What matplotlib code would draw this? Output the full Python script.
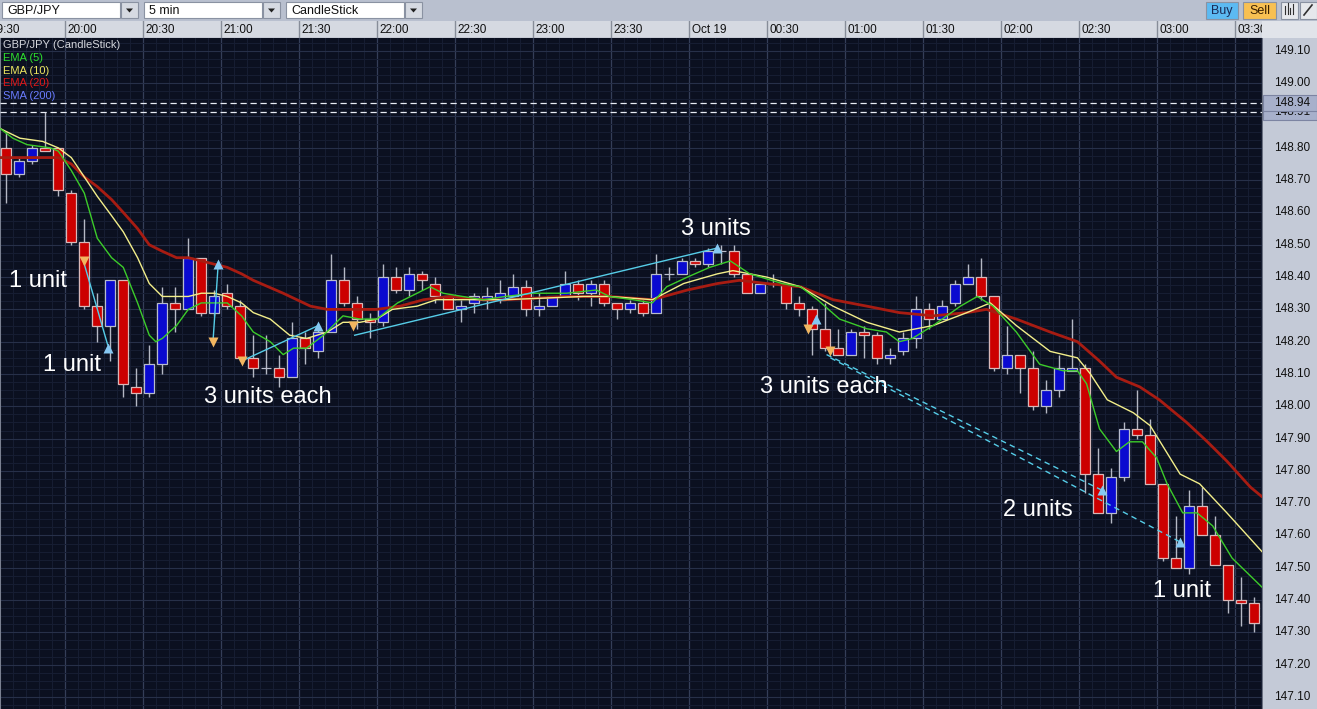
import matplotlib
matplotlib.use('Agg')
import matplotlib.pyplot as plt
from matplotlib.patches import Rectangle, Polygon
import numpy as np

plt.rcParams['font.family'] = ['Liberation Sans', 'DejaVu Sans']

# GBP/JPY 5 min candles
opens = [148.80, 148.72, 148.76, 148.80, 148.80, 148.66, 148.51, 148.31, 148.25, 148.39,
         148.06, 148.04, 148.13, 148.32, 148.30, 148.46, 148.29, 148.35, 148.31, 148.15,
         148.12, 148.12, 148.09, 148.21, 148.17, 148.23, 148.39, 148.32, 148.27, 148.26,
         148.40, 148.36, 148.41, 148.38, 148.34, 148.30, 148.32, 148.33, 148.33, 148.34,
         148.37, 148.30, 148.31, 148.34, 148.38, 148.35, 148.38, 148.32, 148.30, 148.32,
         148.29, 148.41, 148.41, 148.45, 148.44, 148.48, 148.48, 148.41, 148.35, 148.38,
         148.38, 148.32, 148.30, 148.24, 148.18, 148.16, 148.23, 148.22, 148.15, 148.17,
         148.21, 148.30, 148.27, 148.32, 148.38, 148.40, 148.34, 148.12, 148.16, 148.12,
         148.00, 148.05, 148.11, 148.12, 147.79, 147.67, 147.78, 147.93, 147.91, 147.76,
         147.53, 147.50, 147.69, 147.60, 147.51, 147.40, 147.39]
closes = [148.72, 148.76, 148.80, 148.79, 148.67, 148.51, 148.31, 148.25, 148.39, 148.07,
          148.04, 148.13, 148.32, 148.30, 148.46, 148.29, 148.34, 148.31, 148.15, 148.12,
          148.12, 148.09, 148.21, 148.18, 148.23, 148.39, 148.32, 148.27, 148.26, 148.40,
          148.36, 148.41, 148.39, 148.34, 148.30, 148.31, 148.34, 148.34, 148.35, 148.37,
          148.30, 148.31, 148.34, 148.38, 148.35, 148.38, 148.32, 148.30, 148.32, 148.29,
          148.41, 148.41, 148.45, 148.44, 148.48, 148.48, 148.41, 148.35, 148.38, 148.38,
          148.32, 148.30, 148.24, 148.18, 148.16, 148.23, 148.22, 148.15, 148.16, 148.21,
          148.30, 148.27, 148.31, 148.38, 148.40, 148.34, 148.12, 148.16, 148.12, 148.00,
          148.05, 148.12, 148.12, 147.79, 147.67, 147.78, 147.93, 147.91, 147.76, 147.53,
          147.50, 147.69, 147.60, 147.51, 147.40, 147.39, 147.33]
highs = [148.85, 148.77, 148.81, 148.91, 148.80, 148.67, 148.58, 148.35, 148.39, 148.39,
         148.12, 148.19, 148.37, 148.37, 148.52, 148.46, 148.36, 148.38, 148.33, 148.22,
         148.22, 148.16, 148.26, 148.23, 148.24, 148.47, 148.43, 148.34, 148.29, 148.44,
         148.43, 148.43, 148.42, 148.40, 148.34, 148.33, 148.35, 148.37, 148.39, 148.41,
         148.39, 148.35, 148.34, 148.42, 148.39, 148.39, 148.39, 148.32, 148.33, 148.33,
         148.47, 148.43, 148.46, 148.46, 148.49, 148.50, 148.50, 148.41, 148.38, 148.41,
         148.38, 148.34, 148.31, 148.32, 148.24, 148.24, 148.25, 148.23, 148.18, 148.23,
         148.34, 148.32, 148.33, 148.39, 148.44, 148.46, 148.34, 148.25, 148.16, 148.17,
         148.08, 148.16, 148.27, 148.13, 147.87, 147.81, 147.95, 148.05, 147.96, 147.76,
         147.66, 147.74, 147.75, 147.66, 147.51, 147.47, 147.41]
lows = [148.63, 148.71, 148.75, 148.79, 148.65, 148.50, 148.30, 148.20, 148.14, 148.03,
        148.00, 148.03, 148.10, 148.23, 148.30, 148.28, 148.28, 148.30, 148.14, 148.09,
        148.10, 148.06, 148.09, 148.13, 148.15, 148.23, 148.31, 148.24, 148.21, 148.25,
        148.35, 148.34, 148.36, 148.32, 148.30, 148.26, 148.29, 148.30, 148.32, 148.34,
        148.28, 148.28, 148.31, 148.34, 148.33, 148.31, 148.31, 148.27, 148.29, 148.28,
        148.29, 148.39, 148.41, 148.43, 148.43, 148.44, 148.40, 148.35, 148.35, 148.37,
        148.30, 148.28, 148.16, 148.17, 148.16, 148.16, 148.15, 148.13, 148.13, 148.16,
        148.18, 148.24, 148.27, 148.31, 148.38, 148.33, 148.11, 148.10, 148.04, 147.99,
        147.98, 148.03, 148.11, 147.73, 147.67, 147.64, 147.77, 147.90, 147.76, 147.52,
        147.50, 147.48, 147.60, 147.51, 147.36, 147.32, 147.30]

# moving averages at these candle positions
ema5_pos = [-0.48, 0.5, 1.6, 3.4, 4.0, 5.0, 6.0, 7.0, 8.1, 9.0, 10.1, 11.0, 11.5, 12.0, 13.1,
            14.0, 15.0, 16.0, 17.0, 18.1, 19.0, 20.3, 21.3, 22.1, 23.1, 24.4, 25.9, 27.2, 28.5,
            30.1, 31.6, 32.6, 33.6, 35.1, 36.7, 38.4, 40.5, 43.1, 45.4, 46.4, 48.2, 49.7, 50.8,
            52.4, 54.1, 55.7, 57.2, 59.7, 61.1, 62.4, 64.1, 66.2, 67.7, 68.7, 69.7, 71.3, 73.4,
            74.7, 75.9, 77.7, 79.5, 81.3, 82.4, 83.1, 84.1, 85.4, 86.4, 87.4, 88.5, 89.3, 90.5,
            91.6, 92.8, 94.3, 96.6]
ema5_val = [148.86, 148.83, 148.81, 148.80, 148.79, 148.73, 148.66, 148.52, 148.46, 148.43, 148.32,
            148.22, 148.20, 148.21, 148.25, 148.30, 148.32, 148.32, 148.32, 148.28, 148.23, 148.20,
            148.16, 148.18, 148.18, 148.22, 148.28, 148.27, 148.27, 148.32, 148.35, 148.37, 148.35,
            148.34, 148.33, 148.34, 148.35, 148.35, 148.36, 148.34, 148.33, 148.32, 148.37, 148.40,
            148.43, 148.45, 148.41, 148.38, 148.37, 148.33, 148.27, 148.24, 148.23, 148.20, 148.21,
            148.25, 148.31, 148.34, 148.31, 148.23, 148.13, 148.11, 148.11, 148.07, 147.93, 147.86,
            147.89, 147.89, 147.84, 147.76, 147.67, 147.67, 147.63, 147.53, 147.44]
ema10_pos = [-0.48, 1.05, 2.8, 4.0, 5.0, 6.0, 7.0, 8.1, 9.0, 10.1, 11.0, 12.0, 13.1, 14.0, 15.0,
             16.0, 17.0, 18.1, 19.0, 20.3, 21.8, 23.1, 24.7, 25.9, 27.2, 28.5, 29.7, 31.6, 33.1,
             34.7, 38.4, 44.4, 46.4, 49.7, 52.1, 54.7, 55.9, 58.5, 61.1, 63.6, 66.2, 68.7, 71.3,
             73.9, 75.7, 77.7, 80.3, 82.4, 83.4, 84.7, 86.7, 88.0, 90.3, 91.8, 93.9, 96.6]
ema10_val = [148.86, 148.83, 148.82, 148.80, 148.77, 148.71, 148.65, 148.59, 148.54, 148.46, 148.38,
             148.34, 148.34, 148.34, 148.35, 148.35, 148.34, 148.32, 148.29, 148.27, 148.22, 148.21,
             148.23, 148.26, 148.26, 148.27, 148.30, 148.31, 148.33, 148.33, 148.33, 148.34, 148.34,
             148.33, 148.38, 148.41, 148.42, 148.40, 148.37, 148.31, 148.26, 148.23, 148.25, 148.29,
             148.32, 148.25, 148.17, 148.15, 148.10, 148.02, 147.98, 147.94, 147.79, 147.76, 147.67,
             147.55]
ema20_pos = [-0.48, 3.0, 4.0, 5.0, 6.0, 7.0, 8.1, 9.0, 10.1, 11.0, 12.0, 13.1, 14.0, 15.0, 16.0,
             17.0, 18.1, 19.0, 21.3, 23.4, 24.7, 26.4, 28.5, 30.3, 32.1, 34.1, 36.7, 38.4, 43.1,
             46.4, 49.7, 52.4, 54.7, 56.4, 58.5, 61.1, 63.6, 66.2, 68.7, 71.3, 73.9, 75.4, 77.7,
             80.3, 82.4, 84.1, 85.4, 87.2, 88.7, 90.8, 92.4, 93.9, 95.7, 96.6]
ema20_val = [148.77, 148.77, 148.77, 148.75, 148.71, 148.68, 148.64, 148.60, 148.55, 148.50, 148.48,
             148.46, 148.46, 148.45, 148.44, 148.43, 148.41, 148.39, 148.35, 148.31, 148.30, 148.30,
             148.30, 148.31, 148.33, 148.34, 148.33, 148.33, 148.34, 148.34, 148.33, 148.36, 148.38,
             148.39, 148.38, 148.37, 148.33, 148.31, 148.29, 148.28, 148.29, 148.30, 148.27, 148.23,
             148.20, 148.14, 148.09, 148.06, 148.02, 147.95, 147.89, 147.83, 147.75, 147.72]

# trade marks
sell_pos = [6.0, 15.9, 18.1, 26.7, 61.7, 63.4]
sell_px = [148.45, 148.20, 148.14, 148.25, 148.24, 148.17]
buy_pos = [7.8, 16.3, 24.0, 54.7, 62.3, 84.3, 90.3]
buy_px = [148.18, 148.44, 148.25, 148.49, 148.27, 147.74, 147.58]
link_from = [(6.0, 148.44), (16.3, 148.44), (18.1, 148.14), (26.8, 148.22), (61.7, 148.23)]
link_to = [(7.8, 148.19), (15.9, 148.20), (24.0, 148.25), (54.7, 148.49), (62.3, 148.27)]
dash_from = [(63.1, 148.16), (63.4, 148.15)]
dash_to = [(84.3, 147.74), (90.3, 147.58)]

time_labels = ['19:30', '20:00', '20:30', '21:00', '21:30', '22:00', '22:30', '23:00', '23:30',
               'Oct 19', '00:30', '01:00', '01:30', '02:00', '02:30', '03:00', '03:30']
time_pos = [-1.5 + 6 * k for k in range(len(time_labels))]
price_ticks = np.round(np.arange(147.10, 149.11, 0.10), 2)
marked_levels = [148.94, 148.91]

W, H = 1317, 709
fig = plt.figure(figsize=(W / 100, H / 100), dpi=100)
fig.patch.set_facecolor('#b9c0cf')


def px_axes(x0, y0, x1, y1):
    return fig.add_axes([x0 / W, 1 - y1 / H, (x1 - x0) / W, (y1 - y0) / H])


def bare(ax):
    ax.set_xticks([])
    ax.set_yticks([])
    for s in ax.spines.values():
        s.set_visible(False)


XLIM = (-0.485, 96.6)
YLIM = (147.0628, 149.1402)

# --- toolbar ---
tb = px_axes(0, 0, W, 21)
bare(tb)
tb.set_xlim(0, W)
tb.set_ylim(21, 0)
tb.set_facecolor('#b9c0cf')


def dropdown(x0, x1, label):
    tb.add_patch(Rectangle((x0, 2), x1 - x0 - 18, 16, fc='white', ec='#8a92a2', lw=0.8))
    tb.add_patch(Rectangle((x1 - 17, 2), 17, 16, fc='#d6dae2', ec='#8a92a2', lw=0.8))
    tb.add_patch(Polygon([[x1 - 12, 8.5], [x1 - 5, 8.5], [x1 - 8.5, 12.5]], closed=True,
                         fc='#202020', ec='none'))
    tb.text(x0 + 5, 10.5, label, va='center', ha='left', fontsize=9, color='#111111')


dropdown(2, 138, 'GBP/JPY')
dropdown(144, 280, '5 min')
dropdown(286, 422, 'CandleStick')
tb.add_patch(Rectangle((1206, 1.5), 32, 17, fc='#5cbaf2', ec='#8a92a2', lw=0.8))
tb.text(1222, 11, 'Buy', ha='center', va='center', fontsize=9, color='#1a2a55')
tb.add_patch(Rectangle((1243, 1.5), 33, 17, fc='#f8c052', ec='#8a92a2', lw=0.8))
tb.text(1259.5, 11, 'Sell', ha='center', va='center', fontsize=9, color='#3a2000')
tb.add_patch(Rectangle((1281, 1.5), 17, 17, fc='#e6e8ec', ec='#8a92a2', lw=0.8))
for dx, h in [(4, 8), (6.5, 11), (9, 6), (11.5, 10)]:
    tb.plot([1281 + dx, 1281 + dx], [14, 14 - h], color='#303030', lw=0.8)
tb.add_patch(Rectangle((1300, 1.5), 17, 17, fc='#e6e8ec', ec='#8a92a2', lw=0.8))
tb.plot([1304, 1312], [15, 5], color='#303030', lw=1.2)

# --- time header ---
hd = px_axes(0, 21, 1262, 38)
bare(hd)
hd.set_xlim(*XLIM)
hd.set_ylim(0, 1)
hd.set_facecolor('#d5d9e1')
for pos, lab in zip(time_pos, time_labels):
    hd.axvline(pos, color='#878d99', lw=1)
    hd.text(pos + 0.22, 0.45, lab, va='center', ha='left', fontsize=8.5, color='#111111',
            clip_on=True)
hd.axhline(0.02, color='#8a90a0', lw=1)
hd2 = px_axes(1262, 21, W, 38)
hd2.set_facecolor('#e1e4ea')
bare(hd2)

# --- main chart ---
ax = px_axes(0, 38, 1262, H)
ax.set_facecolor('#0b1020')
ax.set_xticks(time_pos)
ax.set_xticks(np.arange(-0.5, 97, 1.0), minor=True)
ax.set_yticks(price_ticks)
ax.set_yticks(np.arange(147.05, 149.15, 0.025), minor=True)
# limits after the ticks, set_ticks widens the view otherwise
ax.set_xlim(*XLIM)
ax.set_ylim(*YLIM)
ax.grid(which='minor', color='#171e33', lw=0.7)
ax.grid(which='major', axis='y', color='#273049', lw=0.8)
ax.grid(which='major', axis='x', color='#343e58', lw=0.9)
ax.tick_params(which='both', length=0, labelbottom=False, labelleft=False)
for s in ax.spines.values():
    s.set_visible(False)
ax.axvline(XLIM[0], color='#7a8090', lw=1.5)

o = np.array(opens)
c = np.array(closes)
idx = np.arange(len(o))
up = c >= o
body_col = np.where(up, '#0a0ad0', '#cc0000')
edge_col = np.where(up, '#b8bccc', '#d8b8b8')
ax.vlines(idx, lows, highs, color='#b4b8c4', lw=1, zorder=2)
ax.bar(idx, c - o, bottom=o, width=0.76, color=body_col, edgecolor=edge_col,
       linewidth=0.9, zorder=3)

ax.plot(ema20_pos, ema20_val, color='#a81c12', lw=2.0, zorder=4, solid_capstyle='round')
ax.plot(ema10_pos, ema10_val, color='#f2ee8a', lw=1.0, zorder=5)
ax.plot(ema5_pos, ema5_val, color='#3ccc2a', lw=1.0, zorder=5)

for lv in marked_levels:
    ax.axhline(lv, color='#e8ecf4', lw=0.9, ls=(0, (5, 3)), zorder=4)

for (x0, p0), (x1, p1) in zip(link_from, link_to):
    ax.plot([x0, x1], [p0, p1], color='#56cde8', lw=1.0, zorder=6)
for (x0, p0), (x1, p1) in zip(dash_from, dash_to):
    ax.plot([x0, x1], [p0, p1], color='#56cde8', lw=1.0, ls=(0, (4, 3)), zorder=6)
ax.plot(sell_pos, sell_px, 'v', color='#f2b660', ms=7.5, mec='none', zorder=7)
ax.plot(buy_pos, buy_px, '^', color='#86c8f2', ms=7.5, mec='none', zorder=7)

notes = [(0.2, 148.37, '1 unit'), (2.82, 148.11, '1 unit'), (15.2, 148.01, '3 units each'),
         (51.9, 148.53, '3 units'), (58.0, 148.04, '3 units each'), (76.7, 147.66, '2 units'),
         (88.2, 147.41, '1 unit')]
for nx, ny, s in notes:
    ax.text(nx, ny, s, color='white', fontsize=17, ha='left', va='baseline', zorder=8)

legend = [('GBP/JPY (CandleStick)', '#d4d6dc'), ('EMA (5)', '#2ee02e'), ('EMA (10)', '#eee860'),
          ('EMA (20)', '#e01818'), ('SMA (200)', '#6a7cff')]
for k, (s, col) in enumerate(legend):
    fig.text(3 / W, 1 - (45 + 12.8 * k) / H, s, color=col, fontsize=8, va='center', ha='left')

# --- price scale ---
pr = px_axes(1262, 38, W, H)
bare(pr)
pr.set_facecolor('#c4cad7')
pr.set_xlim(0, 1)
pr.set_ylim(*YLIM)
pr.axvline(0, color='#5a6070', lw=1.2)
tr = pr.get_yaxis_transform()
for p in price_ticks:
    pr.text(0.55, p, f'{p:.2f}', transform=tr, ha='center', va='center', fontsize=8.5,
            color='#111111', zorder=2)
box_h = 0.05
pr.add_patch(Rectangle((0.02, marked_levels[1] - box_h / 2), 0.98, box_h, transform=tr,
                       fc='#a7b0cb', ec='#7c84a2', lw=0.8, zorder=3))
pr.text(0.55, marked_levels[1], f'{marked_levels[1]:.2f}', transform=tr, ha='center',
        va='center', fontsize=8.5, color='#111111', zorder=4)
pr.add_patch(Rectangle((0.02, marked_levels[0] - box_h / 2), 0.98, box_h, transform=tr,
                       fc='#a7b0cb', ec='#7c84a2', lw=0.8, zorder=5))
pr.text(0.55, marked_levels[0], f'{marked_levels[0]:.2f}', transform=tr, ha='center',
        va='center', fontsize=8.5, color='#111111', zorder=6)

fig.savefig('out.png', dpi=100, facecolor=fig.get_facecolor())
